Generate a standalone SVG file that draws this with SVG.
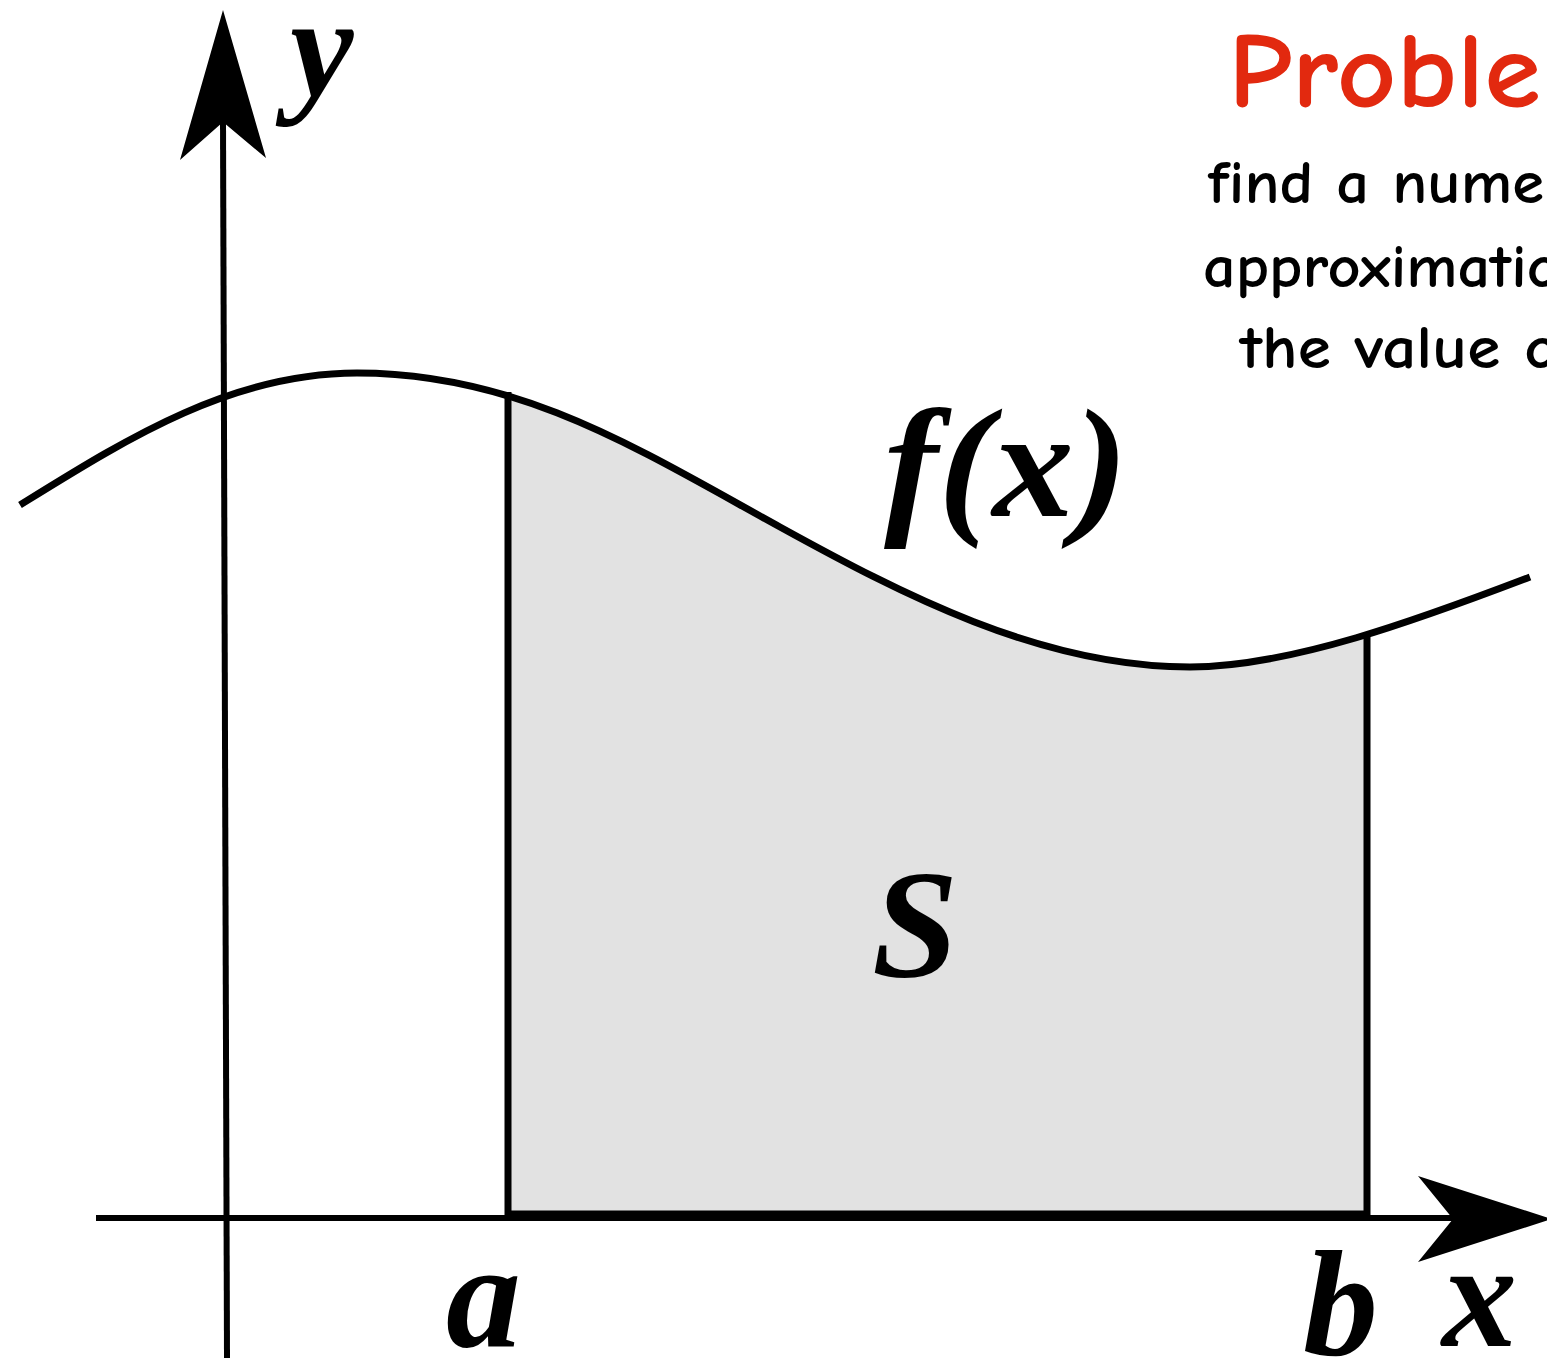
<svg xmlns="http://www.w3.org/2000/svg" width="1547" height="1358" viewBox="0 0 1547 1358">
<style>
.ax{stroke:#000;stroke-width:6;fill:none}
.ln{stroke:#000;stroke-width:7;fill:none;stroke-linecap:butt}
.note{font-family:'Comic Neue','Comic Sans MS',sans-serif;fill:#000;font-size:60px;font-weight:700}
.title{font-family:'Comic Neue','Comic Sans MS',sans-serif;fill:#e2290f;font-size:108px;font-weight:700}
</style>
<defs>
<clipPath id="ab"><rect x="508" y="0" width="859" height="1358"/></clipPath>
</defs>
<rect width="1547" height="1358" fill="#fff"/>
<g id="region">
<path clip-path="url(#ab)" d="M20,505 C125,440 230,373 357,373 C520,373 640,450 780,527 C900,593 1040,667 1190,667 C1290,667 1420,619 1530,577 L1530,1215 L20,1215 Z" fill="#e2e2e2"/>
<line class="ln" x1="508" y1="392" x2="508" y2="1215"/>
<line class="ln" x1="1367" y1="635" x2="1367" y2="1215"/>
<line class="ln" x1="505" y1="1214" x2="1370" y2="1214"/>
</g>
<g id="axes">
<line class="ax" x1="223" y1="120" x2="227" y2="1358"/>
<polygon points="223,10 266,158 223,122 180,160" fill="#000"/>
<line class="ax" x1="96" y1="1218" x2="1455" y2="1218"/>
<polygon points="1552,1219 1418,1262 1453,1219 1418,1176" fill="#000"/>
</g>
<g id="curve">
<path class="ln" d="M20,505 C125,440 230,373 357,373 C520,373 640,450 780,527 C900,593 1040,667 1190,667 C1290,667 1420,619 1530,577"/>
</g>
<g id="labels" font-family="Liberation Serif" font-style="italic" font-weight="bold" fill="#000">
<text transform="translate(290,96) scale(2)" font-size="71.5">y</text>
<text transform="translate(884,516) scale(2)" font-size="77.5" textLength="122" lengthAdjust="spacingAndGlyphs">f(x)</text>
<text transform="translate(872,976) scale(2)" font-size="77.5">S</text>
<text transform="translate(446,1346) scale(2)" font-size="75">a</text>
<text transform="translate(1303,1355) scale(2)" font-size="75">b</text>
<text transform="translate(1442,1346) scale(2)" font-size="75">x</text>
</g>
<g id="problem">
<text class="title" x="1228" y="107" textLength="405" lengthAdjust="spacingAndGlyphs">Problem</text>
<text class="note" x="1208" y="203" textLength="336" lengthAdjust="spacingAndGlyphs">find a nume</text>
<text class="note" x="1203" y="287" textLength="357" lengthAdjust="spacingAndGlyphs">approximatio</text>
<text class="note" x="1240" y="368" textLength="319" lengthAdjust="spacingAndGlyphs">the value o</text>
</g>
</svg>
